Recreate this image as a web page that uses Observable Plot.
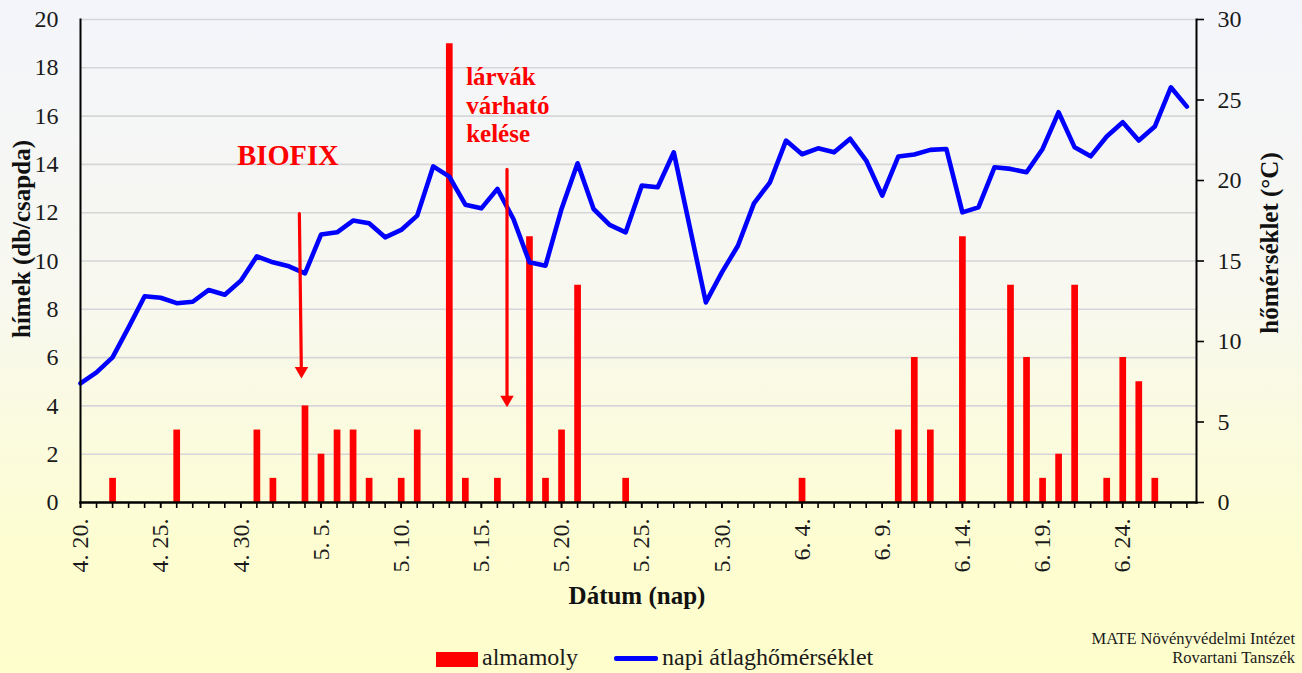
<!DOCTYPE html>
<html>
<head>
<meta charset="utf-8">
<script src="https://cdn.jsdelivr.net/npm/d3@7"></script>
<script src="https://cdn.jsdelivr.net/npm/@observablehq/plot@0.6"></script>
<style>
html, body { margin: 0; padding: 0; }
body {
  width: 1302px; height: 673px; overflow: hidden; position: relative;
  background: linear-gradient(to bottom, #f3f5fb 0%, #f8f8ef 45%, #fdfdd2 80%, #fefdcb 100%);
  font-family: "Liberation Serif", "Times New Roman", serif;
}
#chart { position: absolute; left: 0; top: 0; }
#chart svg, #chart svg text { font-family: "Liberation Serif", "Times New Roman", serif !important; }
.abs { position: absolute; white-space: nowrap; color: #111; font-family: "Liberation Serif", "Times New Roman", serif; }
.title { font-weight: bold; font-size: 25px; line-height: 1; transform: translate(-50%, -50%); }
.rot { transform: translate(-50%, -50%) rotate(-90deg); }
.leg { font-size: 24px; line-height: 24px; color: #1a1a1a; }
.cap { font-size: 16.5px; line-height: 18.7px; text-align: right; color: #1a1a1a; }
</style>
</head>
<body>
<div id="chart"></div>
<div class="abs title rot" style="left:21px; top:239px;">hímek (db/csapda)</div>
<div class="abs title rot" style="left:1269px; top:243px;">hőmérséklet (°C)</div>
<div class="abs title" style="left:637px; top:595px;">Dátum (nap)</div>
<div class="abs" style="left:436px; top:652px; width:42px; height:15px; background:#ff0000;"></div>
<div class="abs leg" style="left:482px; top:645px;">almamoly</div>
<div class="abs" style="left:614px; top:656px; width:44px; height:4.5px; border-radius:2px; background:#0000ff;"></div>
<div class="abs leg" style="left:662px; top:645px;">napi átlaghőmérséklet</div>
<div class="abs cap" style="right:7px; top:630px;">MATE Növényvédelmi Intézet<br>Rovartani Tanszék</div>
<script>
const serif = '"Liberation Serif", "Times New Roman", serif';

// Day offsets counted from 4.20. (day 0) — x axis categories
const majorDays = [0, 5, 10, 15, 20, 25, 30, 35, 40, 45, 50, 55, 60, 65];
const tickLabels = ["4. 20.", "4. 25.", "4. 30.", "5. 5.", "5. 10.", "5. 15.", "5. 20.", "5. 25.", "5. 30.", "6. 4.", "6. 9.", "6. 14.", "6. 19.", "6. 24."];
const allDays = d3.range(0, 70);

// Daily mean temperature (°C), day 0 = 4.20. ... day 69 = 6.28.
const temps = [
  7.40, 8.08, 9.01, 10.88, 12.81, 12.72, 12.38, 12.47, 13.20, 12.90,
  13.78, 15.29, 14.92, 14.67, 14.23, 16.64, 16.78, 17.51, 17.34, 16.47,
  16.93, 17.82, 20.88, 20.24, 18.50, 18.27, 19.48, 17.61, 14.92, 14.71,
  18.23, 21.07, 18.23, 17.24, 16.78, 19.68, 19.58, 21.75, 17.09, 12.43,
  14.29, 15.95, 18.58, 19.89, 22.48, 21.63, 22.00, 21.75, 22.59, 21.24,
  19.06, 21.49, 21.61, 21.90, 21.96, 18.02, 18.33, 20.82, 20.72, 20.51,
  21.96, 24.24, 22.06, 21.50, 22.73, 23.62, 22.48, 23.35, 25.79, 24.59
];

// Codling moth (almamoly) catches: day offsets and counts
const barDays =   [2, 6, 11, 12, 14, 15, 16, 17, 18, 20, 21, 23, 24, 26, 28, 29, 30, 31, 34, 45, 51, 52, 53, 55, 58, 59, 60, 61, 62, 64, 65, 66, 67];
const barCounts = [1, 3, 3, 1, 4, 2, 3, 3, 1, 1, 3, 19, 1, 1, 11, 1, 3, 9, 1, 1, 3, 6, 3, 11, 9, 6, 1, 2, 9, 1, 6, 5, 1];

const leftTicks = [0, 2, 4, 6, 8, 10, 12, 14, 16, 18, 20];
const gridValues = [2, 4, 6, 8, 10, 12, 14, 16, 18, 20];
const rightTicks = [0, 5, 10, 15, 20, 25, 30];
const yDomain = [0, 20];
const tempDomain = [0, 30];
const xDomain = [0, 69.6];
const toLeft = t => t * (yDomain[1] / tempDomain[1]);

// Annotations (in data units: day offset, left-axis value)
const textNotes = [
  {day: 12.94, value: 14.35, text: "BIOFIX"},
  {day: 24.05, value: 18.14, text: "lárvák\nvárható\nkelése"}
];
const arrows = [
  {x1: 13.65, y1: 11.96, x2: 13.78, y2: 5.13},
  {x1: 26.6, y1: 13.79, x2: 26.6, y2: 3.94}
];

const bars = barDays.map((d, i) => ({day: d, count: barCounts[i]}));
const line = temps.map((t, i) => ({day: i, temp: t}));

const chart = Plot.plot({
  width: 1302,
  height: 673,
  marginLeft: 80,
  marginRight: 106,
  marginTop: 19,
  marginBottom: 171,
  style: {background: "transparent", fontFamily: serif, overflow: "visible", color: "#1a1a1a"},
  x: {domain: xDomain},
  y: {domain: yDomain},
  marks: [
    Plot.ruleY(gridValues, {stroke: "#d6d6d8", strokeWidth: 1.6}),
    Plot.ruleX(bars, {x: "day", y1: 0, y2: "count", stroke: "#ff0000", strokeWidth: 6.7}),
    Plot.line(line, {x: "day", y: d => toLeft(d.temp), stroke: "#0000ff", strokeWidth: 4.6, strokeLinejoin: "round", strokeLinecap: "round"}),
    Plot.arrow(arrows, {x1: "x1", y1: "y1", x2: "x2", y2: "y2", stroke: "#ff0000", strokeWidth: 3.2, headLength: 0, insetEnd: 8}),
    Plot.dot(arrows, {x: "x2", y: "y2", symbol: "triangle", rotate: 180, r: 5, fill: "#ff0000", stroke: "none", dy: -7.8}),
    Plot.text(textNotes.slice(0, 1), {x: "day", y: "value", text: "text", fill: "#ff0000", fontWeight: "bold", fontSize: 28.5, fontFamily: serif, textAnchor: "middle", lineAnchor: "middle"}),
    Plot.text(textNotes.slice(1), {x: "day", y: "value", text: "text", fill: "#ff0000", fontWeight: "bold", fontSize: 25, fontFamily: serif, textAnchor: "start", lineAnchor: "top", lineHeight: 1.15}),
    Plot.frame({anchor: "left", stroke: "#000", strokeWidth: 2}),
    Plot.frame({anchor: "right", stroke: "#000", strokeWidth: 2}),
    Plot.axisY(leftTicks, {anchor: "left", tickSize: 0, tickPadding: 22, fontSize: 24, fontFamily: serif, label: null, fill: "#1a1a1a"}),
    Plot.axisY(rightTicks.map(toLeft), {anchor: "right", tickSize: 7, tickPadding: 14, strokeWidth: 1.6, stroke: "#000", fontSize: 24, fontFamily: serif, fill: "#1a1a1a",
      tickFormat: d => String(Math.round(d * tempDomain[1] / yDomain[1])), label: null}),
    Plot.axisX(allDays, {anchor: "bottom", tickSize: 6, strokeWidth: 1.6, stroke: "#000", tickFormat: () => "", label: null}),
    Plot.axisX(majorDays, {anchor: "bottom", tickSize: 6, strokeWidth: 1.6, stroke: "#000", tickPadding: 10, tickRotate: -90, fontSize: 24, fontFamily: serif, fill: "#1a1a1a",
      tickFormat: d => tickLabels[majorDays.indexOf(d)], label: null}),
    Plot.frame({anchor: "bottom", stroke: "#000", strokeWidth: 2.4})
  ]
});
document.getElementById("chart").appendChild(chart);
</script>
</body>
</html>
